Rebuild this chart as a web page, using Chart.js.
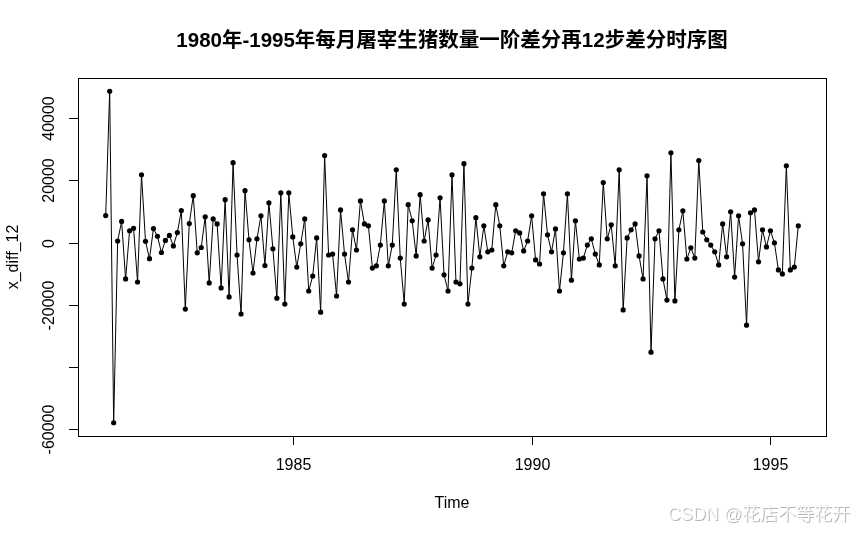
<!DOCTYPE html>
<html>
<head>
<meta charset="utf-8">
<script src="https://cdn.jsdelivr.net/npm/chart.js@4.4.0/dist/chart.umd.min.js"></script>
<style>
  html, body { margin: 0; padding: 0; background: #fff; }
  #wrap { width: 866px; height: 534px; position: relative; }
</style>
</head>
<body>
<div id="wrap"><canvas id="plotCanvas" width="866" height="534"></canvas></div>
<script>
// --- Data: monthly series, starts Feb 1981 ---
const startYear = 1981;
const startMonth = 2;
const diffValues = [
  8700, 48700, -58000, 500, 6800, -11700, 3800, 4600, -12700, 21800,
  400, -5200, 4500, 2000, -3200, 700, 2300, -1100, 3200, 10300,
  -21400, 6100, 15100, -3300, -1600, 8300, -13000, 7600, 6000, -14600,
  13800, -17500, 25700, -4000, -23000, 16700, 900, -9800, 1200, 8600,
  -7400, 12800, -2000, -17900, 16000, -19800, 16000, 1800, -7900, -400,
  7600, -15600, -10800, 1500, -22400, 28000, -4000, -3700, -17200, 10500,
  -3700, -12700, 4100, -2400, 13400, 6000, 5400, -8200, -7500, -800,
  13400, -7500, -800, 23400, -5000, -19800, 12200, 7000, -4300, 15400,
  500, 7300, -8200, -4000, 14400, -10400, -15600, 21800, -12700, -13300,
  25400, -19800, -8200, 8000, -4600, 5400, -3000, -2400, 12200, 5400,
  -7500, -3000, -3300, 3800, 3100, -2700, 500, 8600, -5600, -6900,
  15700, 2500, -3000, 4400, -15600, -3300, 15700, -12100, 7000, -5300,
  -5000, -800, 1200, -3700, -7200, 19300, 1200, 5700, -7500, 23400,
  -21700, 1500, 4100, 6000, -4300, -11700, 21500, -35300, 1200, 3800,
  -11700, -18500, 28900, -18800, 4100, 10200, -5300, -1700, -5000, 26400,
  3400, 900, -800, -3000, -7200, 6000, -4600, 9900, -11100, 8600,
  -400, -26600, 9600, 10500, -6200, 4100, -1400, 3800, -100, -8800,
  -10100, 24700, -8800, -7900, 5400
];

// --- Axis ticks ---
const xTicks = [1985, 1990, 1995];
const yTicks = [-60000, -40000, -20000, 0, 20000, 40000];
const yTickLabels = ["-60000", "", "-20000", "0", "20000", "40000"];

const titleText = "1980年-1995年每月屠宰生猪数量一阶差分再12步差分时序图";
const xTitle = "Time";
const yTitle = "x_diff_12";
const watermark = "CSDN @花店不等花开";

// time index of each observation
const times = diffValues.map((v, i) => startYear + (startMonth - 1 + i) / 12);
const points = diffValues.map((v, i) => ({ x: times[i], y: v }));

// R style 4% axis extension
const xMin = times[0], xMax = times[times.length - 1];
const yMin = Math.min(...diffValues), yMax = Math.max(...diffValues);
const xPad = (xMax - xMin) * 0.04, yPad = (yMax - yMin) * 0.04;

const FONT = "'Liberation Sans', Arial, 'Noto Sans CJK SC', sans-serif";

// --- R-like axes, box and labels ---
const rAxes = {
  id: "rAxes",
  afterDraw(chart) {
    const { ctx, chartArea: a, scales } = chart;
    const sx = scales.x, sy = scales.y;
    ctx.save();
    ctx.strokeStyle = "#000";
    ctx.fillStyle = "#000";
    ctx.lineWidth = 1;
    ctx.strokeRect(a.left + 0.5, a.top + 0.5, a.right - a.left, a.bottom - a.top);

    ctx.font = "16px " + FONT;
    // x axis
    ctx.textAlign = "center";
    ctx.textBaseline = "middle";
    xTicks.forEach(t => {
      const px = Math.round(sx.getPixelForValue(t)) + 0.5;
      ctx.beginPath();
      ctx.moveTo(px, a.bottom);
      ctx.lineTo(px, a.bottom + 9);
      ctx.stroke();
      ctx.fillText(String(t), px, 466);
    });
    ctx.fillText(xTitle, (a.left + a.right) / 2, 504);

    // y axis, labels rotated
    yTicks.forEach((t, i) => {
      const py = Math.round(sy.getPixelForValue(t)) + 0.5;
      ctx.beginPath();
      ctx.moveTo(a.left, py);
      ctx.lineTo(a.left - 9, py);
      ctx.stroke();
      if (yTickLabels[i]) {
        ctx.save();
        ctx.translate(50, py);
        ctx.rotate(-Math.PI / 2);
        ctx.fillText(yTickLabels[i], 0, 0);
        ctx.restore();
      }
    });
    ctx.save();
    ctx.translate(14, (a.top + a.bottom) / 2);
    ctx.rotate(-Math.PI / 2);
    ctx.fillText(yTitle, 0, 0);
    ctx.restore();

    // title
    ctx.font = "bold 20.5px " + FONT;
    ctx.fillText(titleText, (a.left + a.right) / 2, 41);

    // watermark
    ctx.font = "18px " + FONT;
    ctx.textAlign = "right";
    ctx.fillStyle = "rgba(120,120,120,0.55)";
    ctx.fillText(watermark, 851, 516);
    ctx.fillStyle = "rgba(255,255,255,0.9)";
    ctx.fillText(watermark, 850, 515);
    ctx.restore();
  }
};

// --- Chart ---
const ctx = document.getElementById("plotCanvas").getContext("2d");
const chart = new Chart(ctx, {
  type: "line",
  data: {
    datasets: [{
      label: yTitle,
      data: points,
      borderColor: "#000",
      backgroundColor: "#000",
      borderWidth: 1,
      tension: 0,
      fill: false,
      pointRadius: 2.6,
      pointBorderWidth: 0,
      pointBackgroundColor: "#000"
    }]
  },
  options: {
    responsive: false,
    animation: false,
    layout: { padding: { left: 78, top: 78, right: 40, bottom: 98 } },
    plugins: {
      legend: { display: false },
      title: { display: false },
      tooltip: { enabled: false }
    },
    scales: {
      x: { type: "linear", min: xMin - xPad, max: xMax + xPad, display: false },
      y: { type: "linear", min: yMin - yPad, max: yMax + yPad, display: false }
    }
  },
  plugins: [rAxes]
});
</script>
</body>
</html>
